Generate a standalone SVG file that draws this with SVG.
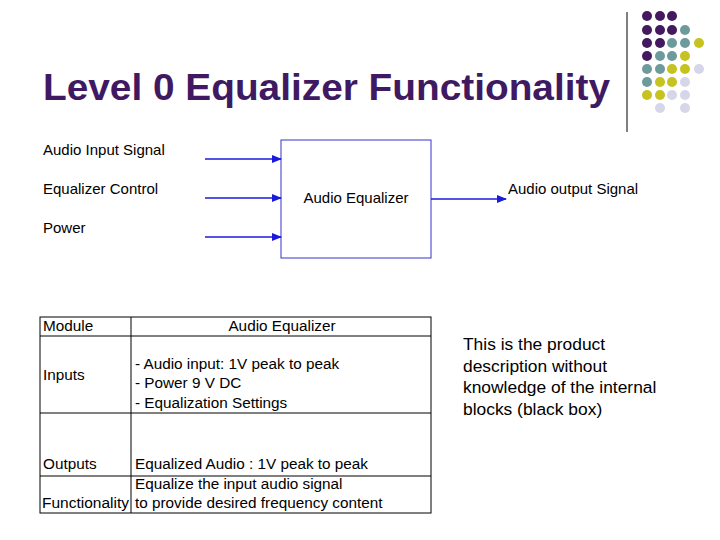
<svg xmlns="http://www.w3.org/2000/svg" width="720" height="540" viewBox="0 0 720 540">
<style>
text{font-family:"Liberation Sans",Arial,sans-serif;fill:#000}
.t{font-size:15px}
.u{font-size:15.3px}
.c{stroke:#1a1adc;stroke-width:1.5;fill:none;marker-end:url(#a)}
.g{stroke:#000;stroke-width:1;fill:none}
.P{fill:#45195f}.T{fill:#6d9b9c}.Y{fill:#c6c21f}.L{fill:#d6d6e8}
</style>
<defs><marker id="a" markerWidth="10" markerHeight="8" refX="9" refY="4" orient="auto" markerUnits="userSpaceOnUse"><path d="M0,0L10,4L0,8z" fill="#1a1adc"/></marker></defs>
<rect width="720" height="540" fill="#fff"/>
<text x="43" y="100" textLength="567" lengthAdjust="spacingAndGlyphs" style="font-size:37px;font-weight:bold;fill:#3f1a63">Level 0 Equalizer Functionality</text>
<line x1="627" y1="12" x2="627" y2="132" stroke="#000"/>
<g id="dots">
<circle class="P" cx="647" cy="16" r="5"/><circle class="P" cx="660" cy="16" r="5"/><circle class="P" cx="672" cy="16" r="5"/>
<circle class="P" cx="647" cy="30" r="5"/><circle class="P" cx="660" cy="30" r="5"/><circle class="P" cx="672" cy="30" r="5"/><circle class="T" cx="685" cy="30" r="5"/>
<circle class="P" cx="647" cy="43" r="5"/><circle class="P" cx="660" cy="43" r="5"/><circle class="T" cx="672" cy="43" r="5"/><circle class="T" cx="685" cy="43" r="5"/><circle class="Y" cx="699" cy="43" r="5"/>
<circle class="P" cx="647" cy="56" r="5"/><circle class="T" cx="660" cy="56" r="5"/><circle class="T" cx="672" cy="56" r="5"/><circle class="Y" cx="685" cy="56" r="5"/>
<circle class="T" cx="647" cy="69" r="5"/><circle class="T" cx="660" cy="69" r="5"/><circle class="Y" cx="672" cy="69" r="5"/><circle class="Y" cx="685" cy="69" r="5"/><circle class="L" cx="699" cy="69" r="5"/>
<circle class="T" cx="647" cy="82" r="5"/><circle class="Y" cx="660" cy="82" r="5"/><circle class="Y" cx="672" cy="82" r="5"/><circle class="L" cx="685" cy="82" r="5"/>
<circle class="Y" cx="647" cy="95" r="5"/><circle class="Y" cx="660" cy="95" r="5"/><circle class="L" cx="672" cy="95" r="5"/><circle class="L" cx="685" cy="95" r="5"/>
<circle class="L" cx="660" cy="108" r="5"/><circle class="L" cx="685" cy="108" r="5"/>
</g>
<g id="labels">
<text class="t" x="43" y="155">Audio Input Signal</text>
<text class="t" x="43" y="194">Equalizer Control</text>
<text class="t" x="43" y="233">Power</text>
</g>
<g id="equalizer">
<rect x="281" y="140" width="150" height="118" fill="#fff" stroke="#3333cc" stroke-width="1"/>
<text class="t" x="356" y="203" text-anchor="middle">Audio Equalizer</text>
</g>
<g id="output"><text class="t" x="508" y="194">Audio output Signal</text></g>
<g id="connectors">
<line class="c" x1="205" y1="159" x2="281" y2="159"/>
<line class="c" x1="205" y1="198" x2="281" y2="198"/>
<line class="c" x1="205" y1="237" x2="281" y2="237"/>
<line class="c" x1="431" y1="199" x2="506" y2="199"/>
</g>
<g id="table">
<rect class="g" x="40" y="317" width="391" height="196"/>
<line class="g" x1="131" y1="317" x2="131" y2="513"/>
<line class="g" x1="40" y1="336" x2="431" y2="336"/>
<line class="g" x1="40" y1="413" x2="431" y2="413"/>
<line class="g" x1="40" y1="476" x2="431" y2="476"/>
<text class="u" x="43" y="331">Module</text>
<text class="u" x="282" y="331" text-anchor="middle">Audio Equalizer</text>
<text class="u" x="43" y="380">Inputs</text>
<text class="u" x="135" y="369">- Audio input: 1V peak to peak</text>
<text class="u" x="135" y="388">- Power 9 V DC</text>
<text class="u" x="135" y="408">- Equalization Settings</text>
<text class="u" x="43" y="469">Outputs</text>
<text class="u" x="135" y="469">Equalized Audio : 1V peak to peak</text>
<text class="u" x="135" y="489">Equalize the input audio signal</text>
<text class="u" x="42" y="508" textLength="87" lengthAdjust="spacingAndGlyphs">Functionality</text>
<text class="u" x="135" y="508">to provide desired frequency content</text>
</g>
<g id="note" style="font-size:17.4px">
<text x="463" y="350">This is the product</text>
<text x="463" y="372">description without</text>
<text x="463" y="393">knowledge of the internal</text>
<text x="463" y="415">blocks (black box)</text>
</g>
</svg>
